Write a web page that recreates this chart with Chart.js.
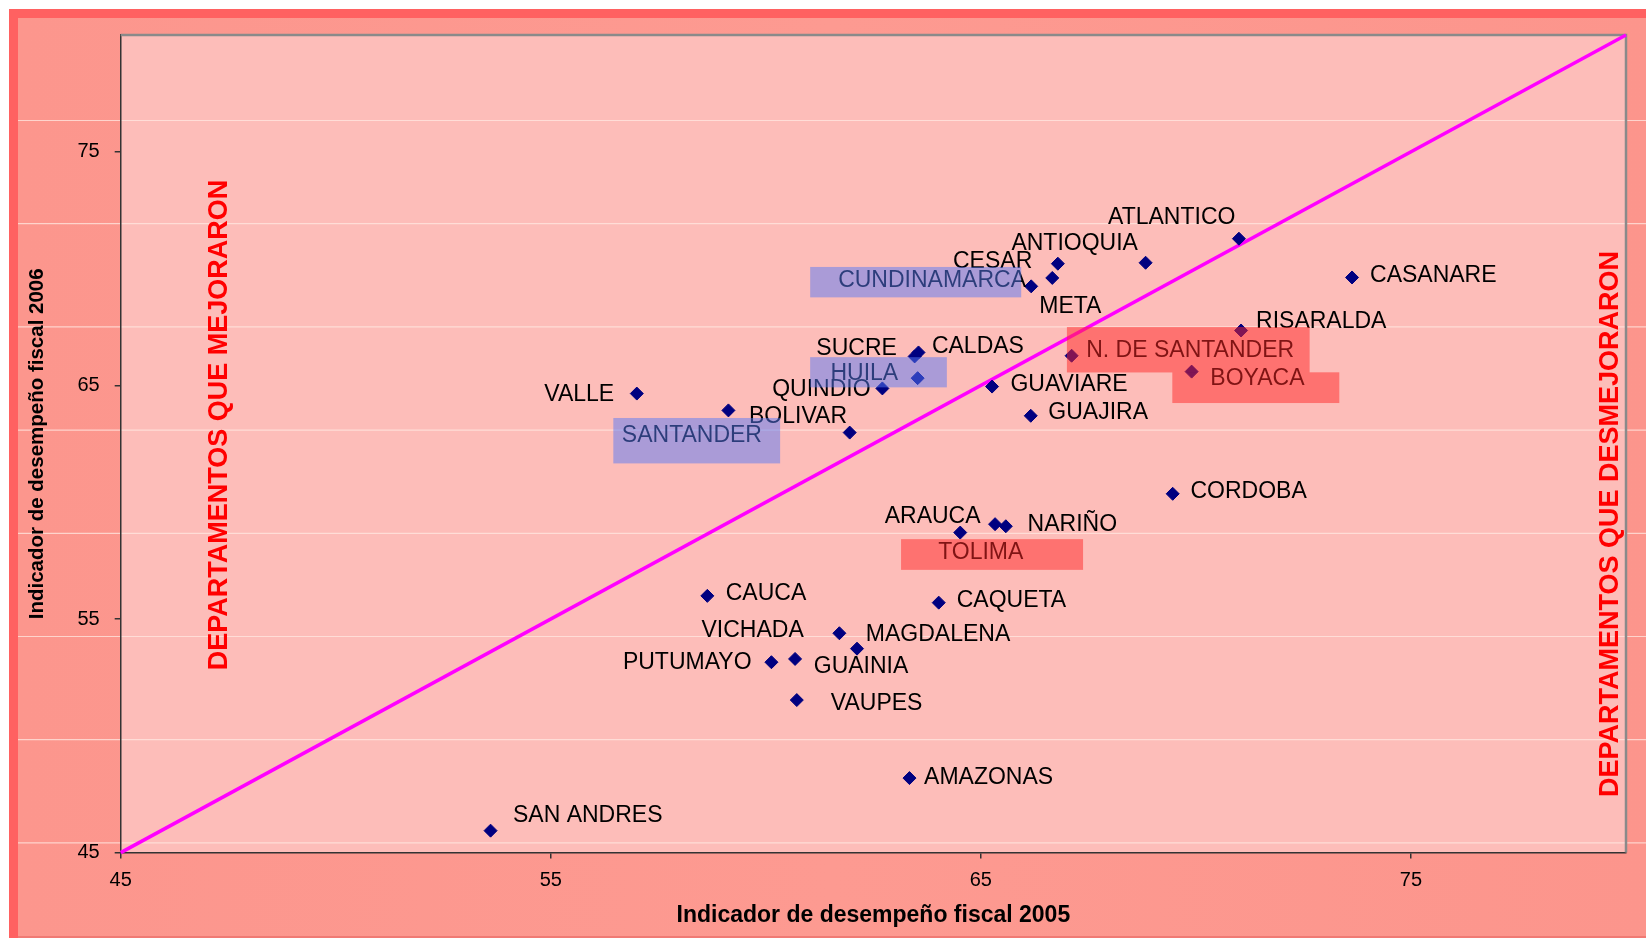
<!DOCTYPE html>
<html>
<head>
<meta charset="utf-8">
<script src="https://cdn.jsdelivr.net/npm/chart.js@4/dist/chart.umd.min.js"></script>
<style>
html,body{margin:0;padding:0;background:#fff;}
#wrap{width:1646px;height:938px;position:relative;}
</style>
</head>
<body>
<div id="wrap"><canvas id="grafico"></canvas></div>
<script>
// datos
const departamentos = ["ATLANTICO","ANTIOQUIA","CESAR","META","CUNDINAMARCA","CASANARE","RISARALDA",
"N. DE SANTANDER","BOYACA","SUCRE","CALDAS","HUILA","QUINDIO","GUAVIARE","GUAJIRA","VALLE",
"SANTANDER","BOLIVAR","CORDOBA","ARAUCA","TOLIMA","NARIÑO","CAUCA","CAQUETA","VICHADA",
"MAGDALENA","PUTUMAYO","GUAINIA","VAUPES","AMAZONAS","SAN ANDRES"];

const ifd2005 = [71.0,68.83,66.79,66.66,66.17,73.63,71.05,67.11,69.9,63.46,63.55,63.53,62.71,65.26,66.16,57.0,
59.13,61.95,69.46,64.52,65.33,65.58,58.64,64.02,61.71,62.12,60.13,60.68,60.72,63.34,53.6];

const ifd2006 = [71.28,70.25,70.21,69.6,69.24,69.62,67.35,66.27,65.59,66.24,66.41,65.31,64.87,64.95,63.7,64.65,
63.93,62.98,60.36,58.7,59.06,58.97,55.99,55.7,54.39,53.73,53.15,53.29,51.53,48.19,45.94];

const diagonal = [45,80];
const xTicks = [45,55,65,75];
const yTicks = [45,55,65,75];

// posicion de cada etiqueta respecto a su punto: [dx, dy, alineacion]
const etiquetas = [
[-3.5,-21,"right"],[-7.7,-19,"right"],[-25.6,-2,"right"],[-13,29,"left"],[-5.2,-6,"right"],
[18,-2,"left"],[15,-9,"left"],[14.6,-5.3,"left"],[18.7,7,"left"],[-17.8,-7.7,"right"],
[13.4,-6,"left"],[-19.5,-5,"right"],[-11.8,1.3,"right"],[18.4,-1.7,"left"],[17.6,-2.7,"left"],
[-22.6,1,"right"],[-36.5,25.3,"center"],[-2.7,-16,"right"],[17.8,-2.6,"left"],[20.3,-16,"right"],
[-14.3,28.4,"center"],[21.8,-1.3,"left"],[18.4,-2,"left"],[18,-2,"left"],[-35.6,-2.6,"right"],
[8.8,-13.7,"left"],[-19.9,0,"right"],[18.7,7.7,"left"],[34,3.3,"left"],[14.6,0,"left"],[22.4,-14.7,"left"]
];

// recuadros resaltados: indice del punto, [dx, dy, ancho, alto], color
const AZUL = "rgba(88,122,245,0.5)";
const ROJO = "rgba(255,40,40,0.5)";
const cajas = [
{idx:4, r:[-221,-19.4,211,30.4], c:AZUL},
{idx:11, r:[-107.5,-21,136.7,30.2], c:AZUL},
{idx:16, r:[-115.1,7.6,166.8,45.4], c:AZUL},
{idx:7, r:[-4.7,-28.7,242.7,45.4], c:ROJO},
{idx:8, r:[-19.3,0.7,167,30.7], c:ROJO},
{idx:20, r:[-94,15,182,30.7], c:ROJO}
];

const FUENTE = "'Liberation Sans', Arial, sans-serif";
Chart.defaults.font.family = FUENTE;
Chart.defaults.color = "#000";

const fondo = {
id:"fondo",
beforeDraw(chart){
const {ctx,width,height,chartArea:a} = chart;
ctx.save();
ctx.fillStyle="#ffffff"; ctx.fillRect(0,0,width,height);
ctx.fillStyle="#ff6161"; ctx.fillRect(9,9,width-9,height-9);
let g = ctx.createLinearGradient(18,0,width,0);
g.addColorStop(0,"#fc968d"); g.addColorStop(0.5,"#fd9a91"); g.addColorStop(1,"#fc958c");
ctx.fillStyle=g; ctx.fillRect(18,18,width-18,height-20);
ctx.fillStyle="#f07a74"; ctx.fillRect(18,height-2,width-18,2);
ctx.fillStyle="#fdbdb9"; ctx.fillRect(a.left,a.top,a.right-a.left,a.bottom-a.top);
ctx.strokeStyle="rgba(255,232,226,0.75)"; ctx.lineWidth=1.2;
for(let y=120.5; y<height-20; y+=103.2){
ctx.beginPath(); ctx.moveTo(18,y); ctx.lineTo(width,y); ctx.stroke();
}
ctx.restore();
},
beforeDatasetsDraw(chart){
const {ctx,chartArea:a} = chart;
ctx.save();
ctx.strokeStyle="#8a8a8a"; ctx.lineWidth=2.5;
ctx.beginPath(); ctx.moveTo(a.left,a.top); ctx.lineTo(a.right,a.top); ctx.lineTo(a.right,a.bottom); ctx.stroke();
ctx.restore();
}
};

const rotulos = {
id:"rotulos",
afterDatasetsDraw(chart){
const ctx = chart.ctx;
const pts = chart.getDatasetMeta(1).data;
ctx.save();
ctx.font = "23px " + FUENTE;
ctx.fillStyle = "#000";
ctx.textBaseline = "middle";
pts.forEach((p,i)=>{
const e = etiquetas[i];
ctx.textAlign = e[2];
ctx.fillText(departamentos[i], p.x+e[0], p.y+e[1]);
});
cajas.forEach(b=>{
const p = pts[b.idx];
ctx.fillStyle = b.c;
ctx.fillRect(p.x+b.r[0], p.y+b.r[1], b.r[2], b.r[3]);
});
ctx.font = "bold 27px " + FUENTE;
ctx.fillStyle = "#ff0000";
ctx.textAlign = "center";
[["DEPARTAMENTOS QUE MEJORARON",220,425],["DEPARTAMENTOS QUE DESMEJORARON",1611,524]].forEach(t=>{
ctx.save();
ctx.translate(t[1],t[2]);
ctx.rotate(-Math.PI/2);
ctx.fillText(t[0],0,0);
ctx.restore();
});
ctx.restore();
}
};

const puntos = departamentos.map((d,i)=>({x:ifd2005[i], y:ifd2006[i]}));

new Chart(document.getElementById("grafico"),{
type:"scatter",
data:{
datasets:[
{
type:"line",
data:diagonal.map(v=>({x:v,y:v})),
borderColor:"#ff00ff",
borderWidth:3.5,
pointRadius:0,
clip:false,
order:2
},
{
data:puntos,
pointStyle:"rectRot",
pointRadius:6.5,
backgroundColor:"#000080",
borderColor:"#000080",
borderWidth:1,
order:1
}
]
},
options:{
responsive:true,
maintainAspectRatio:false,
animation:false,
layout:{autoPadding:false, padding:{top:35,right:20,left:0,bottom:0}},
plugins:{legend:{display:false}, tooltip:{enabled:false}},
scales:{
x:{
type:"linear",
min:45, max:80,
afterBuildTicks(s){ s.ticks = xTicks.map(v=>({value:v})); },
afterFit(s){ s.height = 85.4; },
grid:{drawOnChartArea:false, drawTicks:true, tickLength:6, color:"#333", lineWidth:1.5},
border:{display:true, color:"#333", width:1.5},
ticks:{font:{size:20}, padding:9.5, color:"#000"},
title:{display:true, text:"Indicador de desempeño fiscal 2005", font:{size:23, weight:"bold"}, color:"#000", padding:{top:0,bottom:9}}
},
y:{
type:"linear",
min:45, max:80,
afterBuildTicks(s){ s.ticks = yTicks.map(v=>({value:v})); },
afterFit(s){ s.width = 120.7; },
grid:{drawOnChartArea:false, drawTicks:true, tickLength:6, color:"#333", lineWidth:1.5},
border:{display:true, color:"#333", width:1.5},
ticks:{font:{size:20}, padding:15, color:"#000"},
title:{display:true, text:"Indicador de desempeño fiscal 2006", font:{size:20.5, weight:"bold"}, color:"#000", padding:{top:24.7,bottom:0}}
}
}
},
plugins:[fondo,rotulos]
});
</script>
</body>
</html>
